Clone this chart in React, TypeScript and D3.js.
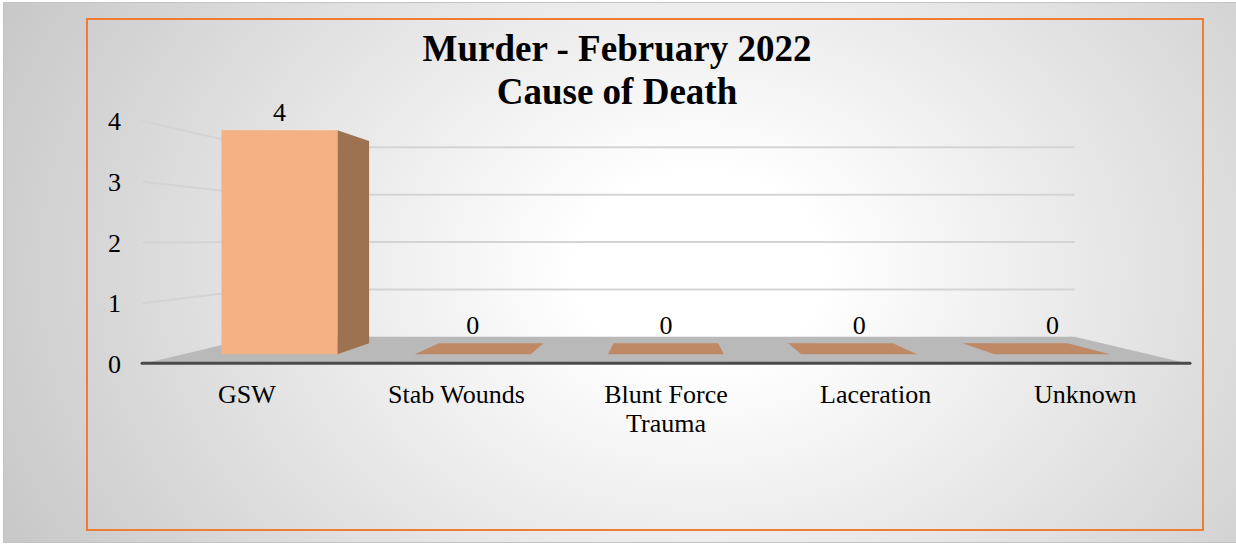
import React from 'react';
import * as d3 from 'd3';

const categories = ['GSW', 'Stab Wounds', 'Blunt Force Trauma', 'Laceration', 'Unknown'];
const categoryLines = [['GSW'], ['Stab Wounds'], ['Blunt Force', 'Trauma'], ['Laceration'], ['Unknown']];
const values = [4, 0, 0, 0, 0];
const yTicks = [0, 1, 2, 3, 4];
const titleLines = ['Murder - February 2022', 'Cause of Death'];

const W = 1236;
const H = 544;
const FONT = '"Liberation Serif", "Times New Roman", Times, serif';

// perspective settings
const VX = 665;
const VY = 240.3;
const K = 0.282;
const Z0 = 0.3;
const Z1 = 0.712;

function proj(X: number, Y: number, z: number): [number, number] {
  const f = 1 / (1 + K * z);
  return [VX + (X - VX) * f, VY + (Y - VY) * f];
}

const line = d3.line<[number, number]>();
function poly(pts: [number, number][]) {
  return (line(pts) || '') + 'Z';
}

export default function App() {
  const x = d3
    .scaleBand<string>()
    .domain(categories)
    .range([142, 1190])
    .paddingInner(0.4)
    .paddingOuter(0.2);
  const y = d3.scaleLinear().domain([0, 4]).range([364, 121]);
  const [xL, xR] = x.range();
  const bw = x.bandwidth();
  const y0 = y(0);

  const floor = poly([proj(xL, y0, 0), proj(xR, y0, 0), proj(xR, y0, 1), proj(xL, y0, 1)]);
  const axisA = proj(xL, y0, 0);
  const axisB = proj(xR, y0, 0);

  return (
    <svg
      width={W}
      height={H}
      style={{ position: 'absolute', left: 0, top: 0, display: 'block' }}
      fontFamily={FONT}
    >
      <defs>
        <radialGradient
          id="bg"
          gradientUnits="userSpaceOnUse"
          cx={0}
          cy={0}
          r={1}
          gradientTransform="translate(700,270) scale(820,640)"
        >
          <stop offset="0" stopColor="#ffffff" />
          <stop offset="0.15" stopColor="#ffffff" />
          <stop offset="1" stopColor="#c4c4c4" />
        </radialGradient>
      </defs>
      <rect x={0} y={0} width={W} height={H} fill="#ffffff" />
      <rect x={3.5} y={2.5} width={W - 3} height={540} fill="url(#bg)" stroke="#c4c4c4" strokeWidth={1} />
      <rect x={87} y={19} width={1116} height={511} fill="none" stroke="#ED7D31" strokeWidth={2} />

      {/* gridlines */}
      {yTicks
        .filter((v) => v > 0)
        .map((v) => {
          const a = proj(xL, y(v), 0);
          const b = proj(xL, y(v), 1);
          const c = proj(xR, y(v), 1);
          return (
            <g key={'g' + v} stroke="#d4d4d4" strokeWidth={2} fill="none">
              <line x1={a[0]} y1={a[1]} x2={b[0]} y2={b[1]} />
              <line x1={b[0]} y1={b[1]} x2={c[0]} y2={c[1]} />
            </g>
          );
        })}

      {/* floor */}
      <path d={floor} fill="#b9b9b9" />
      <line
        x1={axisA[0]}
        y1={axisA[1] - 0.7}
        x2={axisB[0]}
        y2={axisB[1] - 0.7}
        stroke="#4a4a4a"
        strokeWidth={3}
        strokeLinecap="round"
      />

      {/* bars */}
      {categories.map((c, i) => {
        const X0 = x(c) as number;
        const X1 = X0 + bw;
        const v = values[i];
        const Yt = y(v);
        const Yb = y0;
        const parts: React.ReactNode[] = [];
        if (Yt > VY || v === 0) {
          parts.push(
            <path
              key="top"
              d={poly([proj(X0, Yt, Z0), proj(X1, Yt, Z0), proj(X1, Yt, Z1), proj(X0, Yt, Z1)])}
              fill="#bf8966"
            />
          );
        }
        if (v > 0) {
          if (X1 < VX) {
            parts.push(
              <path
                key="side"
                d={poly([proj(X1, Yb, Z0), proj(X1, Yt, Z0), proj(X1, Yt, Z1), proj(X1, Yb, Z1)])}
                fill="#9d7251"
              />
            );
          } else if (X0 > VX) {
            parts.push(
              <path
                key="side"
                d={poly([proj(X0, Yb, Z0), proj(X0, Yt, Z0), proj(X0, Yt, Z1), proj(X0, Yb, Z1)])}
                fill="#9d7251"
              />
            );
          }
          parts.push(
            <path
              key="front"
              d={poly([proj(X0, Yb, Z0), proj(X1, Yb, Z0), proj(X1, Yt, Z0), proj(X0, Yt, Z0)])}
              fill="#F4B183"
            />
          );
        }
        return <g key={c}>{parts}</g>;
      })}

      {/* value labels */}
      {categories.map((c, i) => {
        const Xc = (x(c) as number) + bw / 2;
        const Yt = y(values[i]);
        const a = proj(Xc, Yt, Z0);
        const b = proj(Xc, Yt, Z1);
        const top = Math.min(a[1], b[1]);
        return (
          <text key={'v' + c} x={a[0]} y={top - 9} textAnchor="middle" fontSize={26} fill="#000">
            {values[i]}
          </text>
        );
      })}

      {/* y tick labels */}
      {yTicks.map((v) => (
        <text key={'t' + v} x={121} y={y(v) + 9} textAnchor="end" fontSize={26} fill="#000">
          {v}
        </text>
      ))}

      {/* category labels */}
      {categories.map((c, i) => (
        <text key={'c' + c} x={(x(c) as number) + bw / 2} textAnchor="middle" fontSize={26} fill="#000">
          {categoryLines[i].map((l, j) => (
            <tspan key={j} x={(x(c) as number) + bw / 2} y={403 + j * 28.5}>
              {l}
            </tspan>
          ))}
        </text>
      ))}

      {/* title */}
      <text x={617} textAnchor="middle" fontSize={37} fontWeight="bold" fill="#000">
        {titleLines.map((l, j) => (
          <tspan key={j} x={617} y={61 + j * 42.5}>
            {l}
          </tspan>
        ))}
      </text>
    </svg>
  );
}
